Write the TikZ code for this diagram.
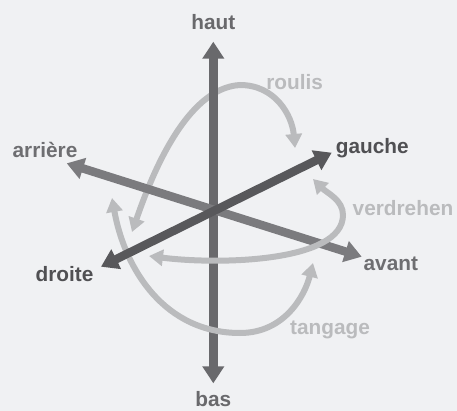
\documentclass[tikz,border=0pt]{standalone}
\usepackage{fontspec}
\setmainfont{Liberation Sans}
\usetikzlibrary{arrows.meta}
\definecolor{bggray}{HTML}{F0F1F3}
\definecolor{upgray}{HTML}{69696C}
\definecolor{fwdgray}{HTML}{7B7B7E}
\definecolor{fwdtext}{HTML}{6E6E71}
\definecolor{sidegray}{HTML}{58585B}
\definecolor{sidetext}{HTML}{505053}
\definecolor{rotgray}{HTML}{BABBBD}

\tikzset{
  lbl/.style={font=\fontsize{20.8}{24}\selectfont\bfseries, anchor=base, inner sep=0pt},
  axis/.style={line width=9pt, {Triangle[length=17pt, width=21pt]}-{Triangle[length=17pt, width=21pt]}},
  rot/.style={rotgray, line width=6pt, {Triangle[length=14pt, width=16pt]}-{Triangle[length=14pt, width=16pt]}}
}

\begin{document}
\begin{tikzpicture}[x=1pt, y=-1pt]

% Background
\fill[bggray] (0,0) rectangle (457,411);
\path[use as bounding box] (0,0) rectangle (457,411);

%% Axis ends
\coordinate (up) at (213.3,41.7);
\coordinate (down) at (213.3,383.3);
\coordinate (left) at (331.7,152.7);
\coordinate (right) at (101,266.7);
\coordinate (back) at (66.7,163.3);
\coordinate (front) at (361.7,256.7);

%% Rotation arrow ends
\coordinate (rollA) at (132,232);
\coordinate (rollB) at (295,148);
\coordinate (yawA) at (313,179);
\coordinate (yawB) at (149,256);
\coordinate (pitchA) at (112,198);
\coordinate (pitchB) at (313,263);

% Roll (behind the vertical axis)
\draw[rot] (rollA) .. controls (150,180) and (185,88) .. (240,85)
  .. controls (275,85) and (292,115) .. (rollB);

% Vertical axis
\draw[axis, upgray] (down) -- (up);

% Pitch
\draw[rot] (pitchA) .. controls (125,270) and (165,333) .. (240,333)
  .. controls (285,333) and (305,295) .. (pitchB);

% Front / back axis
\draw[axis, fwdgray, line width=8.5pt] (back) -- (front);

% Yaw
\draw[rot] (yawA) .. controls (327,193) and (343,200) .. (343,215)
  .. controls (343,262) and (220,265) .. (yawB);

% Left / right axis
\draw[axis, sidegray, line width=8.5pt] (right) -- (left);

%% Labels
\node[lbl, text=upgray] (haut) at (213.3,29.3) {haut};
\node[lbl, text=upgray] (bas) at (213.3,406.5) {bas};
\node[lbl, text=fwdtext] (arriere) at (45,157.3) {arrière};
\node[lbl, text=fwdtext] (avant) at (390.8,270.7) {avant};
\node[lbl, text=sidetext] (gauche) at (372.2,154) {gauche};
\node[lbl, text=sidetext] (droite) at (64.5,281.7) {droite};
\node[lbl, text=rotgray] (roulis) at (294.7,90) {roulis};
\node[lbl, text=rotgray] (verdrehen) at (403,216) {verdrehen};
\node[lbl, text=rotgray] (tangage) at (330,334.3) {tangage};

\end{tikzpicture}
\end{document}
